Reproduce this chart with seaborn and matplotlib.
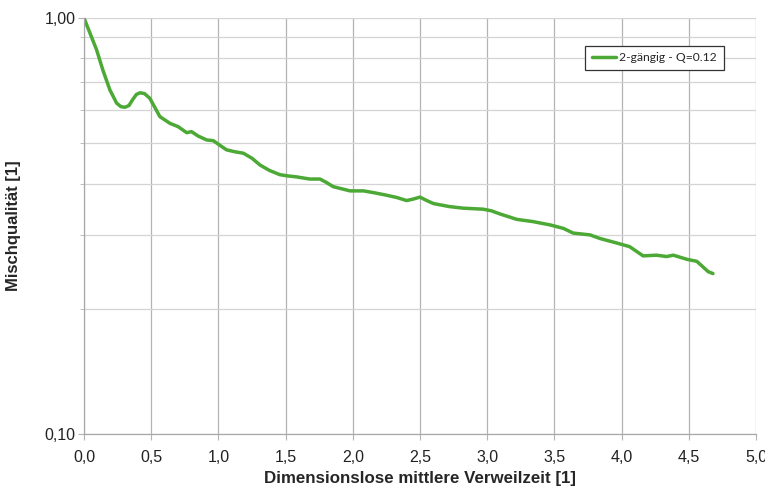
import numpy as np
import pandas as pd
import seaborn as sns
from matplotlib import pyplot as plt
from matplotlib.ticker import FixedLocator, FuncFormatter, NullFormatter

# values
zeit = [0.0, 0.05, 0.094, 0.14, 0.193, 0.243, 0.275, 0.305, 0.335, 0.36, 0.39,
        0.417, 0.45, 0.49, 0.565, 0.64, 0.70, 0.764, 0.80, 0.85, 0.913, 0.962,
        1.06, 1.12, 1.186, 1.25, 1.31, 1.38, 1.458, 1.52, 1.58, 1.68, 1.756,
        1.80, 1.855, 1.98, 2.08, 2.16, 2.25, 2.33, 2.40, 2.45, 2.50, 2.55,
        2.60, 2.72, 2.82, 2.97, 3.03, 3.095, 3.22, 3.34, 3.47, 3.567, 3.64,
        3.765, 3.84, 3.96, 4.06, 4.16, 4.26, 4.335, 4.385, 4.485, 4.56, 4.645,
        4.68]
qualitaet = [1.0, 0.91, 0.838, 0.75, 0.671, 0.624, 0.612, 0.610, 0.616, 0.635,
             0.655, 0.661, 0.658, 0.641, 0.579, 0.558, 0.548, 0.530, 0.533,
             0.520, 0.509, 0.507, 0.482, 0.477, 0.473, 0.460, 0.443, 0.430,
             0.420, 0.417, 0.415, 0.410, 0.410, 0.403, 0.393, 0.384, 0.384,
             0.380, 0.375, 0.370, 0.364, 0.367, 0.371, 0.364, 0.358, 0.352,
             0.349, 0.347, 0.344, 0.338, 0.328, 0.324, 0.318, 0.312, 0.304,
             0.301, 0.295, 0.288, 0.282, 0.268, 0.269, 0.267, 0.269, 0.263,
             0.260, 0.2455, 0.243]
serie = '2-gängig - Q=0.12'
x_ticks = [0.0, 0.5, 1.0, 1.5, 2.0, 2.5, 3.0, 3.5, 4.0, 4.5, 5.0]
y_ticks = [0.1, 1.0]

df = pd.DataFrame({'zeit': zeit, 'qualitaet': qualitaet, 'serie': serie})

sns.set_style('whitegrid')
plt.rcParams['font.family'] = ['Liberation Sans', 'DejaVu Sans']

fig = plt.figure(figsize=(7.65, 4.88), dpi=100)
ax = fig.add_axes([0.1098, 0.1107, 0.8784, 0.8525])

sns.lineplot(data=df, x='zeit', y='qualitaet', hue='serie',
             palette=['#4ca935'], linewidth=2.5, ax=ax)

ax.set_yscale('log')
ax.set_xlim(0, 5)
ax.set_ylim(0.1, 1.0)

ax.xaxis.set_major_locator(FixedLocator(x_ticks))
ax.yaxis.set_major_locator(FixedLocator(y_ticks))
ax.yaxis.set_minor_locator(FixedLocator(np.arange(2, 10) / 10))
ax.yaxis.set_minor_formatter(NullFormatter())
ax.xaxis.set_major_formatter(FuncFormatter(lambda v, p: '{:.1f}'.format(v).replace('.', ',')))
ax.yaxis.set_major_formatter(FuncFormatter(lambda v, p: '{:.2f}'.format(v).replace('.', ',')))

ax.grid(True, which='major', axis='x', color='#b4b4b4', linewidth=0.9)
ax.grid(True, which='both', axis='y', color='#d4d4d4', linewidth=0.9)
ax.tick_params(axis='both', which='major', labelsize=11.5, colors='#222222',
               length=4, width=0.8, bottom=True, left=True)
ax.tick_params(axis='x', colors='#b4b4b4', labelcolor='#222222', pad=7.5)
ax.tick_params(axis='y', which='both', colors='#b4b4b4', labelcolor='#222222', pad=2)
ax.tick_params(axis='y', which='minor', length=3, left=True)

for side in ['top', 'right']:
    ax.spines[side].set_visible(False)
for side in ['left', 'bottom']:
    ax.spines[side].set_color('#a8a8a8')
    ax.spines[side].set_linewidth(0.9)

ax.set_xlabel('Dimensionslose mittlere Verweilzeit [1]', fontsize=12.2,
              fontweight='bold', labelpad=4)
ax.set_ylabel('Mischqualität [1]', fontsize=12, fontweight='bold')
ax.yaxis.set_label_coords(-0.094, 0.5)

leg = ax.legend(loc='upper right', bbox_to_anchor=(0.952, 0.933),
                frameon=True, fancybox=False, handlelength=2.0,
                handletextpad=0.25, borderpad=0.55, borderaxespad=0,
                prop={'family': 'Lato', 'size': 8.7})
leg.get_frame().set_edgecolor('#333333')
leg.get_frame().set_linewidth(0.9)
leg.get_frame().set_alpha(1)
for line in leg.get_lines():
    line.set_linewidth(2.5)

fig.savefig('out.png', dpi=100)
plt.close(fig)
